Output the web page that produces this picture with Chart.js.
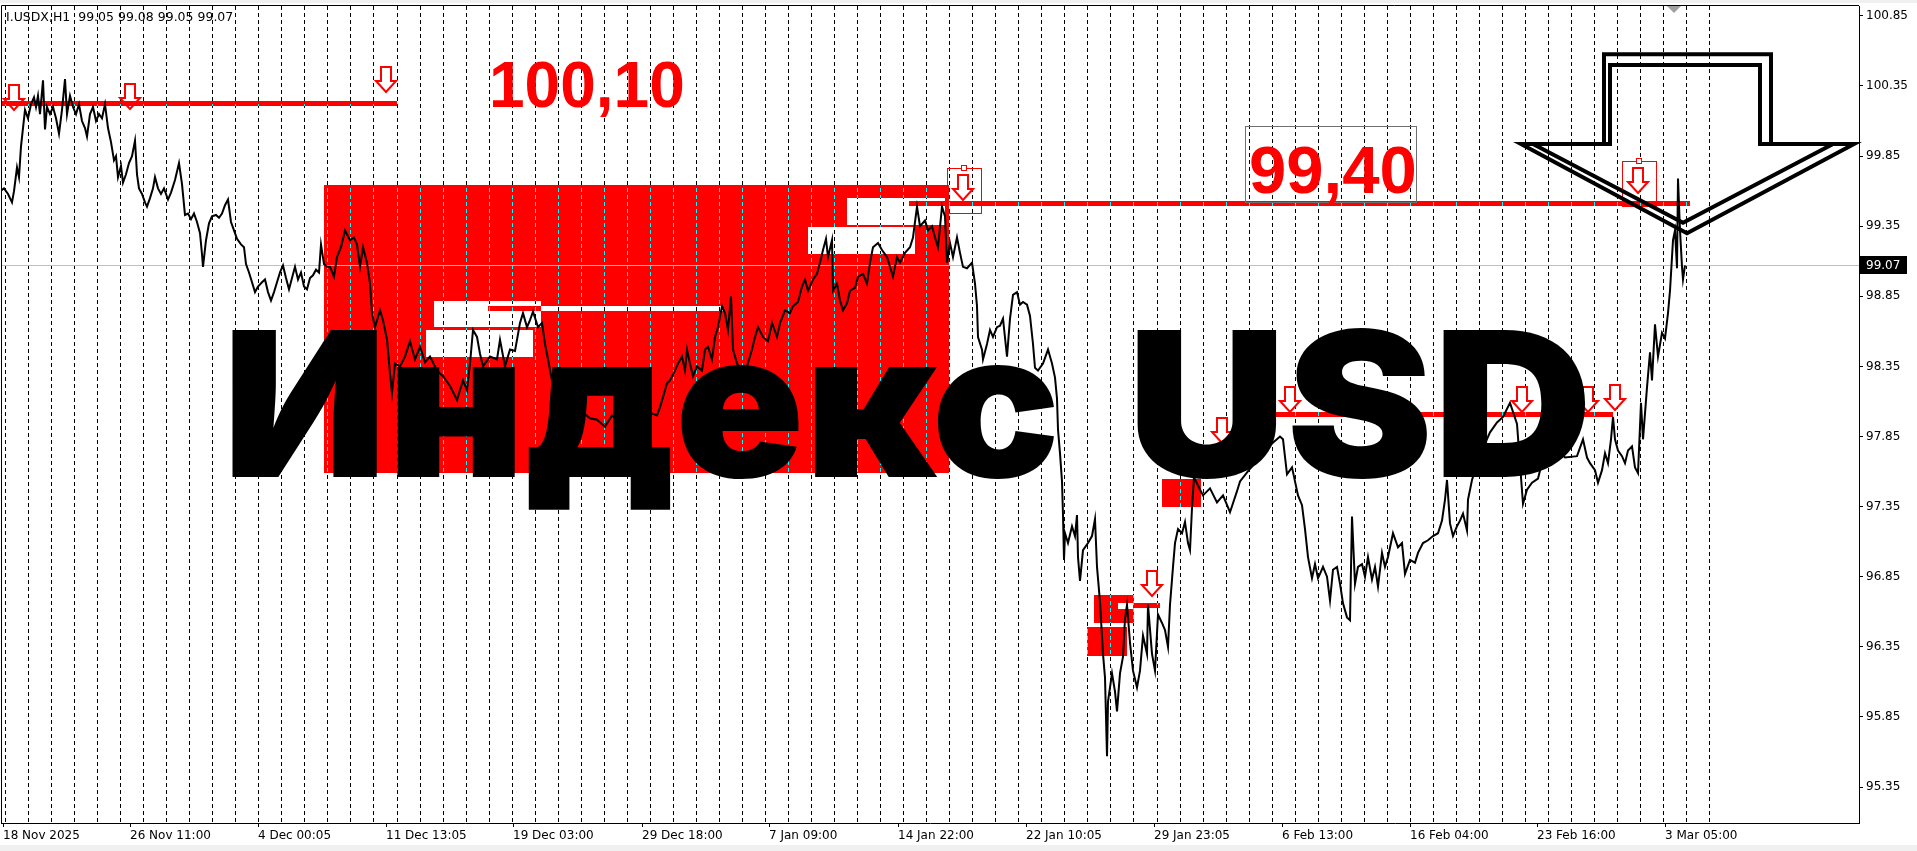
<!DOCTYPE html>
<html>
<head>
<meta charset="utf-8">
<title>I.USDX H1</title>
<script src="https://cdn.jsdelivr.net/npm/chart.js@4.4.1/dist/chart.umd.min.js"></script>
<style>
  html, body { margin: 0; padding: 0; background: #fff; overflow: hidden; }
  canvas { display: block; }
</style>
</head>
<body>
<canvas id="stockChart" width="1917" height="851"></canvas>
<script>
//--- Price path (bar index, close) ---//
const barsNov = [
  0,4,8,12,14,17,19,21,23,25,
  28,31,34,36,38,40,43,45,47,50,
  53,56,59,62,65,67,70,73,76,79,
  82,85,87,90,93,96,99,102,105,108,
  111,114,116,118,121,123,126,129,132,135,
  137,139,142,145,147,150,153,155,158,161,
  164,168,171,175,179,182,185,188,191,194,
  197,200,202,203,206,209,212,216,219,222,
  225,228,231,234,237,241,244,246,249,252,
  255,258,262,265,268,271,274,277,280,283,
  286,289,292,295,298,301,304,307,310,313,
  316,319,321,324,327];
const closesNov = [
  99.60,99.62,99.58,99.52,99.60,99.77,99.70,99.92,100.05,100.18,
  100.12,100.22,100.27,100.20,100.28,100.15,100.39,100.04,100.20,100.15,
  100.20,100.12,100.01,100.18,100.40,100.15,100.28,100.20,100.15,100.22,
  100.10,100.05,99.99,100.15,100.20,100.10,100.15,100.12,100.22,100.05,
  99.95,99.82,99.85,99.70,99.78,99.66,99.72,99.80,99.85,99.96,
  99.72,99.62,99.58,99.52,99.49,99.55,99.62,99.70,99.62,99.58,
  99.62,99.54,99.59,99.68,99.80,99.65,99.43,99.44,99.40,99.44,
  99.38,99.30,99.15,99.06,99.25,99.37,99.42,99.43,99.41,99.44,
  99.50,99.54,99.38,99.32,99.26,99.22,99.20,99.08,99.02,98.95,
  98.88,98.92,98.95,98.97,98.88,98.82,98.88,98.95,99.02,99.07,
  98.98,98.90,98.98,99.06,98.97,99.02,98.92,98.90,98.98,99.00,
  99.04,99.02,99.22,99.08,99.06];

const barsDec = [
  330,334,337,341,345,350,354,357,360,363,
  367,370,372,375,380,383,387,390,392,395,
  400,405,410,415,420,425,430,437,443,450,
  457,463,467,470,473,477,480,483,490,497,
  500,505,510,515,520,523,527,530,533,538,
  542,545,548,552,557,565,578,590,597,605,
  612,622,632,642,650,657];
const closesDec = [
  99.06,98.99,99.13,99.20,99.32,99.25,99.27,99.22,99.06,99.20,
  99.09,98.94,98.73,98.63,98.75,98.68,98.54,98.30,98.16,98.37,
  98.35,98.42,98.53,98.40,98.49,98.38,98.42,98.32,98.28,98.21,
  98.11,98.25,98.18,98.37,98.61,98.56,98.44,98.35,98.42,98.40,
  98.54,98.35,98.47,98.46,98.66,98.73,98.63,98.68,98.74,98.63,
  98.66,98.51,98.40,98.25,98.31,98.20,98.05,97.98,97.97,97.92,
  98.00,97.95,98.00,97.95,98.02,98.00];

const barsJan = [
  660,663,667,670,675,678,682,685,687,690,
  693,697,702,705,708,712,715,718,722,725,
  728,731,733,737,742,747,752,755,758,763,
  768,772,777,780,785,790,793,798,802,805,
  808,813,817,820,823,826,828,832,833,837,
  840,843,847,850,855,858,863,867,870,873,
  878,882,887,890,893,897,900,905,910,913,
  917,920,925,928,932,935,938,942,945,947,
  950,953,957,960,963,967,972,975,977,978,
  982,983,987,990,993,997,1000];
const closesJan = [
  98.06,98.13,98.23,98.25,98.32,98.37,98.42,98.32,98.47,98.37,
  98.28,98.35,98.32,98.47,98.49,98.40,98.56,98.63,98.78,98.73,
  98.61,98.85,98.47,98.37,98.32,98.35,98.47,98.56,98.63,98.56,
  98.53,98.66,98.56,98.66,98.75,98.73,98.78,98.81,98.92,98.97,
  98.89,98.97,99.01,99.09,99.18,99.26,99.13,99.25,98.89,98.94,
  98.82,98.75,98.80,98.89,98.91,98.99,99.01,98.94,99.09,99.20,
  99.23,99.18,99.13,99.06,98.99,99.13,99.09,99.16,99.20,99.27,
  99.49,99.35,99.39,99.32,99.35,99.27,99.20,99.49,99.42,99.09,
  99.23,99.13,99.27,99.16,99.06,99.05,99.09,98.94,98.78,98.56,
  98.47,98.40,98.51,98.61,98.56,98.63,98.64];

const barsLateJan = [
  1003,1007,1010,1013,1017,1020,1023,1027,1030,1033,
  1035,1038,1043,1048,1052,1055,1057,1058,1060,1062,
  1063,1064,1065,1068,1072,1075,1077,1078,1080,1083,
  1088,1092,1095,1097,1100,1103,1105,1107,1108,1112,
  1115,1117,1120,1123,1125,1127,1130,1133,1137,1140,
  1143,1147,1148,1152,1155,1158,1162,1165,1168,1170,
  1173,1175,1178,1182,1185,1188,1190,1192,1194,1198,
  1203,1210,1217,1223,1230,1237,1240,1250,1262,1272,
  1280,1283,1287,1292,1295,1298,1302,1305,1308,1312,
  1315,1318];
const closesLateJan = [
  98.69,98.42,98.69,98.86,98.88,98.79,98.81,98.79,98.71,98.51,
  98.34,98.32,98.37,98.47,98.37,98.27,98.12,97.90,97.73,97.53,
  97.29,96.97,97.16,97.09,97.21,97.14,97.29,96.99,96.82,97.04,
  97.09,97.14,97.26,96.92,96.67,96.30,96.13,95.57,95.96,96.16,
  96.03,95.89,96.16,96.28,96.55,96.65,96.38,96.18,96.06,96.18,
  96.43,96.30,96.65,96.30,96.18,96.58,96.52,96.47,96.35,96.65,
  96.92,97.09,97.19,97.16,97.24,97.09,97.04,97.34,97.56,97.50,
  97.43,97.48,97.38,97.43,97.31,97.46,97.53,97.62,97.72,97.80,
  97.85,97.83,97.58,97.63,97.53,97.43,97.36,97.19,96.99,96.84,
  96.94,96.84];

const barsFeb = [
  1320,1323,1327,1330,1333,1337,1340,1343,1347,1350,
  1352,1355,1358,1362,1365,1368,1372,1375,1378,1382,
  1385,1388,1393,1398,1402,1405,1410,1415,1418,1423,
  1428,1433,1438,1442,1445,1447,1450,1453,1457,1460,
  1463,1467,1468,1472,1480,1490,1497,1503,1510,1517,
  1523,1527,1532,1538,1545,1555,1565,1577,1583,1587,
  1590,1595,1598,1602,1605,1608,1611,1613,1615,1618,
  1622,1625,1628,1632,1635,1638,1641,1643,1647,1650,
  1652,1655,1658,1662,1665,1668,1670,1673,1675,1677,
  1678,1680,1682,1683,1685];
const closesFeb = [
  96.87,96.92,96.85,96.68,96.90,96.92,96.80,96.66,96.56,96.54,
  97.28,96.80,96.92,96.94,96.85,96.99,96.83,96.92,96.78,97.02,
  96.92,96.99,97.16,97.06,97.09,96.87,96.97,96.95,97.02,97.09,
  97.11,97.14,97.16,97.25,97.40,97.54,97.23,97.14,97.21,97.25,
  97.30,97.18,97.40,97.54,97.72,97.88,97.95,97.99,98.09,97.94,
  97.37,97.47,97.52,97.55,97.75,97.80,97.70,97.71,97.83,97.70,
  97.66,97.61,97.52,97.61,97.73,97.66,97.83,97.99,97.83,97.75,
  97.71,97.66,97.75,97.78,97.63,97.59,98.09,97.83,98.20,98.45,
  98.25,98.65,98.42,98.59,98.55,98.73,98.89,99.25,99.32,99.05,
  99.69,99.32,99.06,98.97,99.07];

//--- Axes ---//
const timeTickBars = [3,130,258,386,513,642,769,898,1026,1154,1282,1410,1537,1665];
const timeTickLabels = ['18 Nov 2025','26 Nov 11:00','4 Dec 00:05','11 Dec 13:05','19 Dec 03:00',
  '29 Dec 18:00','7 Jan 09:00','14 Jan 22:00','22 Jan 10:05','29 Jan 23:05','6 Feb 13:00',
  '16 Feb 04:00','23 Feb 16:00','3 Mar 05:00'];
const priceTicks = [100.85,100.35,99.85,99.35,98.85,98.35,97.85,97.35,96.85,96.35,95.85,95.35];
const lastPrice = 99.07;
const headerText = 'I.USDX,H1  99.05 99.08 99.05 99.07';

//--- Drawn objects (bar, price) ---//
// [fromBar, toBar, price]
const levelLines = [[2,397,100.222],[909,1690,99.512],[1250,1613,98.007],[1133,1160,96.644],[488,541,98.763]];
// [fromBar, toBar, topPrice, bottomPrice]
const redZones = [[324,949,99.644,97.59],[1094,1134,96.719,96.519],[1087,1127,96.490,96.283],[1162,1201,97.547,97.347]];
const whiteGaps = [[847,945,99.551,99.358],[808,915,99.344,99.152],[434,541,98.817,98.631],
  [426,533,98.610,98.417],[541,723,98.781,98.746],[1118,1133,96.662,96.619]];
// arrow tips [bar, price]
const downArrows = [[14,100.179],[130,100.186],[386,100.307],[963,99.537],[1638,99.587],[1222,97.804],
  [1290,98.025],[1522,98.025],[1588,98.025],[1615,98.039],[1152,96.712]];
const selectedArrows = [[963,99.537],[1638,99.587]];
const levelLabels = ['100,10','99,40'];
const levelLabelAt = [[489,100.200],[1249,99.587]];
const labelFrame = [1245,1416,100.064,99.522];
const bigArrowOuter = [[1604,100.576],[1771,100.576],[1771,99.936],[1854,99.936],[1687,99.299],[1521,99.936],[1604,99.936]];
const bigArrowInner = [[1610,100.500],[1760,100.500],[1760,99.936],[1833,99.936],[1683,99.375],[1533,99.936],[1610,99.936]];
const titleWords = ['Индекс', 'USD'];
const titleSpans = [[232,1054],[1137,1586]];
const titleBaseline = 97.561;
const shiftMarkBar = 1674;

// day separators
const sepStart = 5, sepStep = 23.03, sepCount = 75;

const cavas = document.getElementById('stockChart');
const allBars = [].concat(barsNov, barsDec, barsJan, barsLateJan, barsFeb);
const allCloses = [].concat(closesNov, closesDec, closesJan, closesLateJan, closesFeb);
const pricePoints = allBars.map((b, i) => ({x: b, y: allCloses[i]}));

//--- Helpers ---//
function toPx(chart, bar, price) {
    return [chart.scales.x.getPixelForValue(bar), chart.scales.y.getPixelForValue(price)];
}
function boxPx(chart, b1, b2, p1, p2) {
    const [x1, y1] = toPx(chart, b1, p1);
    const [x2, y2] = toPx(chart, b2, p2);
    return {x: Math.round(x1), y: Math.round(y1), w: Math.round(x2 - x1), h: Math.round(y2 - y1)};
}
function lineBox(chart, l) {
    const [x1, y] = toPx(chart, l[0], l[2]);
    const [x2] = toPx(chart, l[1], l[2]);
    return {x: Math.round(x1), y: Math.round(y - 2.5), w: Math.round(x2 - x1), h: 5};
}
function drawSeparators(chart, color, clip) {
    const {ctx, chartArea: a, scales: {x}} = chart;
    ctx.save();
    ctx.beginPath();
    ctx.rect(clip.x, clip.y, clip.w, clip.h);
    ctx.clip();
    ctx.strokeStyle = color;
    ctx.lineWidth = 1;
    ctx.setLineDash([4, 3]);
    for (let k = 0; k < sepCount; k++) {
        const xp = Math.round(x.getPixelForValue(sepStart + k * sepStep)) + 0.5;
        ctx.beginPath();
        ctx.moveTo(xp, a.top);
        ctx.lineTo(xp, a.bottom);
        ctx.stroke();
    }
    ctx.restore();
}
function fillWithGrid(chart, r, fill, gridColor) {
    chart.ctx.fillStyle = fill;
    chart.ctx.fillRect(r.x, r.y, r.w, r.h);
    drawSeparators(chart, gridColor, r);
}
function drawDownArrow(ctx, tx, ty) {
    ctx.beginPath();
    ctx.moveTo(tx - 5, ty - 25);
    ctx.lineTo(tx + 5, ty - 25);
    ctx.lineTo(tx + 5, ty - 11);
    ctx.lineTo(tx + 10, ty - 11);
    ctx.lineTo(tx, ty);
    ctx.lineTo(tx - 10, ty - 11);
    ctx.lineTo(tx - 5, ty - 11);
    ctx.closePath();
    ctx.fillStyle = '#fff';
    ctx.fill();
    ctx.strokeStyle = '#ff0000';
    ctx.lineWidth = 2;
    ctx.stroke();
}
function strokePoly(chart, pts) {
    const ctx = chart.ctx;
    ctx.beginPath();
    pts.forEach((p, i) => {
        const [x, y] = toPx(chart, p[0], p[1]);
        if (i === 0) ctx.moveTo(x, y); else ctx.lineTo(x, y);
    });
    ctx.closePath();
    ctx.stroke();
}
//--------------//

const underlay = {
    id: 'underlay',
    beforeDatasetsDraw(chart) {
        const {ctx, chartArea: a} = chart;
        ctx.save();
        drawSeparators(chart, '#000', {x: a.left, y: a.top, w: a.right - a.left, h: a.bottom - a.top});
        downArrows.forEach(p => {
            const [x, y] = toPx(chart, p[0], p[1]);
            drawDownArrow(ctx, Math.round(x), Math.round(y));
        });
        redZones.forEach(z => fillWithGrid(chart, boxPx(chart, z[0], z[1], z[2], z[3]), '#ff0000', '#00ffff'));
        whiteGaps.forEach(z => fillWithGrid(chart, boxPx(chart, z[0], z[1], z[2], z[3]), '#ffffff', '#000'));
        levelLines.forEach(l => fillWithGrid(chart, lineBox(chart, l), '#ff0000', '#00ffff'));
        const yl = Math.round(chart.scales.y.getPixelForValue(lastPrice)) + 0.5;
        ctx.strokeStyle = '#c0c0c0';
        ctx.lineWidth = 1;
        ctx.beginPath();
        ctx.moveTo(a.left, yl);
        ctx.lineTo(a.right, yl);
        ctx.stroke();
        ctx.restore();
    },
    afterDatasetsDraw(chart) {
        const {ctx} = chart;
        ctx.save();
        // selected arrow frames
        ctx.strokeStyle = '#ff0000';
        ctx.lineWidth = 1;
        selectedArrows.forEach(p => {
            const [x, y] = toPx(chart, p[0], p[1]);
            const tx = Math.round(x), ty = Math.round(y);
            ctx.strokeRect(tx - 16 + 0.5, ty - 32 + 0.5, 34, 45);
            ctx.fillStyle = '#fff';
            ctx.fillRect(tx - 2, ty - 35, 5, 5);
            ctx.strokeRect(tx - 2 + 0.5, ty - 35 + 0.5, 5, 5);
        });
        // level captions
        const f = boxPx(chart, labelFrame[0], labelFrame[1], labelFrame[2], labelFrame[3]);
        ctx.strokeStyle = '#707070';
        ctx.strokeRect(f.x + 0.5, f.y + 0.5, f.w, f.h);
        ctx.fillStyle = '#ff0000';
        ctx.textBaseline = 'alphabetic';
        ctx.textAlign = 'left';
        levelLabels.forEach((t, i) => {
            const [x, y] = toPx(chart, levelLabelAt[i][0], levelLabelAt[i][1]);
            ctx.font = `bold ${i === 0 ? 64 : 67}px "Liberation Sans", Arial, sans-serif`;
            ctx.fillText(t, x, y);
        });
        // big outlined arrow
        ctx.strokeStyle = '#000';
        ctx.lineWidth = 4;
        ctx.lineJoin = 'miter';
        strokePoly(chart, bigArrowOuter);
        strokePoly(chart, bigArrowInner);
        // title, each word fitted to its span
        ctx.font = '900 202px Inter, Lato, Roboto, "DejaVu Sans", sans-serif';
        ctx.fillStyle = '#000';
        titleWords.forEach((word, i) => {
            const [x1, y] = toPx(chart, titleSpans[i][0], titleBaseline);
            const [x2] = toPx(chart, titleSpans[i][1], titleBaseline);
            const m = ctx.measureText(word);
            const inkW = m.actualBoundingBoxLeft + m.actualBoundingBoxRight;
            ctx.save();
            ctx.translate(x1, y);
            ctx.scale((x2 - x1) / inkW, 1);
            ctx.fillText(word, m.actualBoundingBoxLeft, 0);
            ctx.restore();
        });
        ctx.restore();
    },
    afterDraw(chart) {
        const {ctx, chartArea: a, scales: {y}} = chart;
        ctx.save();
        // frame top/left
        ctx.strokeStyle = '#000';
        ctx.lineWidth = 1;
        ctx.beginPath();
        ctx.moveTo(a.left + 0.5, a.bottom);
        ctx.lineTo(a.left + 0.5, a.top - 0.5);
        ctx.lineTo(a.right, a.top - 0.5);
        ctx.stroke();
        // header text
        ctx.fillStyle = '#000';
        ctx.font = '12.5px "DejaVu Sans", sans-serif';
        ctx.textAlign = 'left';
        ctx.textBaseline = 'alphabetic';
        ctx.fillText(headerText, 6, 21);
        // chart shift marker
        const sx = Math.round(chart.scales.x.getPixelForValue(shiftMarkBar));
        ctx.fillStyle = '#a0a0a0';
        ctx.beginPath();
        ctx.moveTo(sx - 7, a.top);
        ctx.lineTo(sx + 7, a.top);
        ctx.lineTo(sx, a.top + 7);
        ctx.closePath();
        ctx.fill();
        // last price tag
        const yl = Math.round(y.getPixelForValue(lastPrice));
        ctx.fillStyle = '#000';
        ctx.fillRect(a.right + 1, yl - 9, 47, 18);
        ctx.fillStyle = '#fff';
        ctx.font = '12px "DejaVu Sans", sans-serif';
        ctx.textBaseline = 'middle';
        ctx.fillText(lastPrice.toFixed(2), a.right + 7, yl + 1);
        // strips
        ctx.fillStyle = '#f0f0f0';
        ctx.fillRect(0, 0, chart.width, 3);
        ctx.fillRect(0, 845, chart.width, 6);
        ctx.restore();
    }
};

const bg = {
    id: 'bg',
    beforeDraw(chart) {
        chart.ctx.save();
        chart.ctx.fillStyle = '#fff';
        chart.ctx.fillRect(0, 0, chart.width, chart.height);
        chart.ctx.restore();
    }
};

//--- Chart ---//
new Chart(cavas, {
    type: 'line',
    data: {
        datasets: [{
            label: 'I.USDX',
            data: pricePoints,
            borderColor: '#000',
            borderWidth: 2,
            pointRadius: 0,
            tension: 0
        }]
    },
    options: {
        responsive: false,
        animation: false,
        devicePixelRatio: 1,
        layout: { padding: { top: 6, left: 1, right: 0, bottom: 0 } },
        plugins: { legend: { display: false }, tooltip: { enabled: false } },
        scales: {
            x: {
                type: 'linear',
                min: 1,
                max: 1859,
                position: 'bottom',
                afterBuildTicks: s => { s.ticks = timeTickBars.map(v => ({ value: v })); },
                afterFit: s => {
                    s.height = 28;
                    s.paddingLeft = 0; s.paddingRight = 0;
                },
                ticks: {
                    autoSkip: false,
                    maxRotation: 0,
                    minRotation: 0,
                    align: 'start',
                    padding: 2,
                    color: '#000',
                    font: { family: 'DejaVu Sans', size: 12 },
                    callback: v => timeTickLabels[timeTickBars.indexOf(v)]
                },
                grid: { drawOnChartArea: false, drawTicks: true, tickLength: 4, color: '#000' },
                border: { display: true, color: '#000', width: 1 }
            },
            y: {
                position: 'right',
                min: 95.0933,
                max: 100.9206,
                afterBuildTicks: s => { s.ticks = priceTicks.map(v => ({ value: v })); },
                afterFit: s => {
                    s.width = 58;
                    s.paddingTop = 0; s.paddingBottom = 0;
                },
                ticks: {
                    autoSkip: false,
                    padding: 3,
                    color: '#000',
                    font: { family: 'DejaVu Sans', size: 12 },
                    callback: v => v.toFixed(2)
                },
                grid: { drawOnChartArea: false, drawTicks: true, tickLength: 4, color: '#000' },
                border: { display: true, color: '#000', width: 1 }
            }
        }
    },
    plugins: [bg, underlay]
});
</script>
</body>
</html>
